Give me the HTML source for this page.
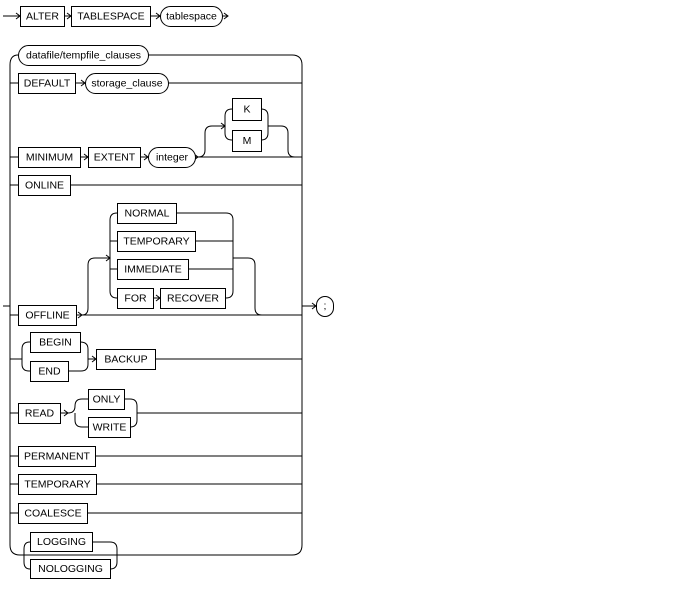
<!DOCTYPE html>
<html><head><meta charset="utf-8"><style>
html,body{margin:0;padding:0;background:#fff;}
svg{display:block;}
text{font-family:"Liberation Sans",Arial,sans-serif;font-size:10.5px;fill:#000;text-anchor:middle;dominant-baseline:central;}
.l{fill:none;stroke:#000;stroke-width:1;}
.b{fill:#fff;stroke:#000;stroke-width:1;}
</style></head><body>
<svg width="688" height="594" viewBox="0 0 688 594" xmlns="http://www.w3.org/2000/svg">
<!-- top row -->
<path class="l" d="M3,16H20 M64,16H71 M150,16H160 M222,16H228"/>
<path class="l" d="M16,13L20,16L16,19 M67,13L71,16L67,19 M156,13L160,16L156,19 M224,13L228,16L224,19"/>
<rect class="b" x="20.5" y="6.5" width="44" height="20"/><text x="42.5" y="16.5">ALTER</text>
<rect class="b" x="71.5" y="6.5" width="79" height="20"/><text x="111" y="16.5">TABLESPACE</text>
<rect class="b" x="160.5" y="6.5" width="62" height="20" rx="10"/><text x="191.5" y="16.5">tablespace</text>

<!-- main rails -->
<path class="l" d="M3,306H10 M10,306V65Q10,55 18,55 M10,300V545Q10,555 20,555H292Q302,555 302,545V65Q302,55 292,55H148"/>
<path class="l" d="M302,306H316 M312,303L316,306L312,309"/>
<rect class="b" x="316.5" y="296.5" width="17" height="20" rx="8.5"/><text x="325" y="306">;</text>

<!-- datafile -->
<rect class="b" x="18.5" y="45.5" width="130" height="20" rx="10"/><text x="83.5" y="55.5">datafile/tempfile_clauses</text>

<!-- DEFAULT -->
<path class="l" d="M10,83H18 M75,83H85 M168,83H302 M81,80L85,83L81,86"/>
<rect class="b" x="18.5" y="73.5" width="57" height="20"/><text x="47" y="83.5">DEFAULT</text>
<rect class="b" x="85.5" y="73.5" width="83" height="20" rx="10"/><text x="127" y="83.5">storage_clause</text>

<!-- MINIMUM -->
<path class="l" d="M10,157H18 M80,157H88 M140,157H148 M195,157H302 M84,154L88,157L84,160 M144,154L148,157L144,160 M194,154L198,157L194,160"/>
<rect class="b" x="18.5" y="147.5" width="62" height="20"/><text x="49.5" y="157.5">MINIMUM</text>
<rect class="b" x="88.5" y="147.5" width="52" height="20"/><text x="114.5" y="157.5">EXTENT</text>
<rect class="b" x="148.5" y="147.5" width="47" height="20" rx="10"/><text x="172" y="157.5">integer</text>
<path class="l" d="M198,157Q205,157 205,150V133Q205,126 212,126H225 M221,123L225,126L221,129 M232,109Q225,109 225,116V133Q225,140 232,140 M261,109Q268,109 268,116V133Q268,140 261,140 M268,126H281Q288,126 288,133V150Q288,157 295,157"/>
<rect class="b" x="232.5" y="98.5" width="29" height="22"/><text x="247" y="109.5">K</text>
<rect class="b" x="232.5" y="130.5" width="29" height="21"/><text x="247" y="141">M</text>

<!-- ONLINE -->
<path class="l" d="M10,185H18 M70,185H302"/>
<rect class="b" x="18.5" y="175.5" width="52" height="20"/><text x="44.5" y="185.5">ONLINE</text>

<!-- OFFLINE -->
<path class="l" d="M10,315H18 M76,315H302 M78,312L82,315L78,318"/>
<rect class="b" x="18.5" y="305.5" width="58" height="20"/><text x="47.5" y="315.5">OFFLINE</text>
<path class="l" d="M82,315Q88,315 88,308V265Q88,258 95,258H110 M106,255L110,258L106,261 M117,213Q110,213 110,220V291Q110,298 117,298 M110,241H117 M110,269H117 M176,213H226Q233,213 233,220V291Q233,298 226,298H225 M195,241H233 M188,269H233 M233,258H248Q255,258 255,265V308Q255,315 262,315 M153,298H160 M156,295L160,298L156,301"/>
<rect class="b" x="117.5" y="203.5" width="59" height="20"/><text x="147" y="213.5">NORMAL</text>
<rect class="b" x="117.5" y="231.5" width="78" height="20"/><text x="156.5" y="241.5">TEMPORARY</text>
<rect class="b" x="117.5" y="259.5" width="71" height="20"/><text x="153" y="269.5">IMMEDIATE</text>
<rect class="b" x="117.5" y="288.5" width="36" height="20"/><text x="135.5" y="298.5">FOR</text>
<rect class="b" x="160.5" y="288.5" width="65" height="20"/><text x="193" y="298.5">RECOVER</text>

<!-- BEGIN/END BACKUP -->
<path class="l" d="M10,359H22 M22,359V349Q22,342 29,342H30 M80,342Q88,342 88,349V364Q88,371 81,371H68 M22,359V364Q22,371 29,371H30 M88,359H96 M92,356L96,359L92,362 M155,359H302"/>
<rect class="b" x="30.5" y="332.5" width="50" height="20"/><text x="55.5" y="342.5">BEGIN</text>
<rect class="b" x="30.5" y="361.5" width="38" height="20"/><text x="49.5" y="371.5">END</text>
<rect class="b" x="96.5" y="349.5" width="59" height="20"/><text x="126" y="359.5">BACKUP</text>

<!-- READ -->
<path class="l" d="M10,413H18 M60,413H68Q75,413 75,406Q75,399 82,399H88 M64,410L68,413L64,416 M75,413V420Q75,427 82,427H88 M124,399H130Q137,399 137,406V420Q137,427 130,427 M137,413H302"/>
<rect class="b" x="18.5" y="403.5" width="42" height="20"/><text x="39.5" y="413.5">READ</text>
<rect class="b" x="88.5" y="389.5" width="36" height="20"/><text x="106.5" y="399.5">ONLY</text>
<rect class="b" x="88.5" y="417.5" width="42" height="20"/><text x="109.5" y="427.5">WRITE</text>

<!-- PERMANENT / TEMPORARY / COALESCE -->
<path class="l" d="M10,456H18 M95,456H302 M10,484H18 M96,484H302 M10,513H18 M87,513H302"/>
<rect class="b" x="18.5" y="446.5" width="77" height="20"/><text x="57" y="456.5">PERMANENT</text>
<rect class="b" x="18.5" y="474.5" width="78" height="20"/><text x="57.5" y="484.5">TEMPORARY</text>
<rect class="b" x="18.5" y="503.5" width="69" height="20"/><text x="53" y="513.5">COALESCE</text>

<!-- LOGGING -->
<path class="l" d="M24,555V549Q24,542 30,542 M24,555V562Q24,569 30,569 M92,542H110Q117,542 117,549V562Q117,569 110,569"/>
<rect class="b" x="30.5" y="532.5" width="62" height="19"/><text x="61.5" y="542">LOGGING</text>
<rect class="b" x="30.5" y="559.5" width="80" height="19"/><text x="70.5" y="569">NOLOGGING</text>
</svg>
</body></html>
